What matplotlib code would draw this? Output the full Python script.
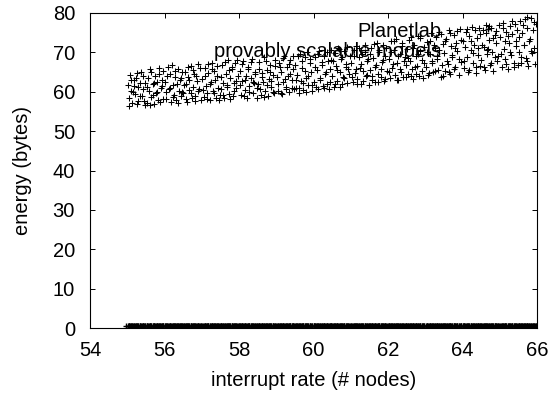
import matplotlib
matplotlib.use("Agg")
import matplotlib.pyplot as plt

plt.rcParams['font.family'] = ['Liberation Sans', 'DejaVu Sans']

# provably scalable models: interrupt rate vs energy (first pass of samples)
models_x = [
    55.02, 55.05, 55.08, 55.11, 55.14, 55.17, 55.2, 55.23, 55.26, 55.29, 55.33, 55.37, 55.41, 55.44, 55.48,
    55.52, 55.55, 55.58, 55.62, 55.65, 55.68, 55.71, 55.74, 55.77, 55.8, 55.83, 55.86, 55.9, 55.93, 55.97,
    56.02, 56.05, 56.09, 56.12, 56.15, 56.18, 56.22, 56.25, 56.28, 56.31, 56.35, 56.38, 56.41, 56.45, 56.48,
    56.51, 56.54, 56.58, 56.61, 56.64, 56.67, 56.7, 56.74, 56.77, 56.8, 56.83, 56.87, 56.9, 56.93, 56.97,
    57.02, 57.05, 57.08, 57.12, 57.15, 57.18, 57.21, 57.25, 57.28, 57.31, 57.34, 57.38, 57.41, 57.44, 57.48,
    57.51, 57.54, 57.57, 57.61, 57.64, 57.67, 57.7, 57.73, 57.77, 57.8, 57.83, 57.86, 57.9, 57.93, 57.97,
    58.02, 58.05, 58.09, 58.12, 58.15, 58.18, 58.21, 58.25, 58.28, 58.31, 58.35, 58.38, 58.41, 58.44, 58.48,
    58.51, 58.54, 58.58, 58.61, 58.64, 58.67, 58.7, 58.74, 58.77, 58.8, 58.83, 58.87, 58.9, 58.93, 58.97,
    59.02, 59.05, 59.08, 59.12, 59.15, 59.18, 59.21, 59.25, 59.28, 59.31, 59.34, 59.38, 59.41, 59.44, 59.48,
    59.51, 59.54, 59.57, 59.61, 59.64, 59.67, 59.7, 59.73, 59.77, 59.8, 59.83, 59.86, 59.9, 59.93, 59.97,
    60.02, 60.05, 60.09, 60.12, 60.15, 60.18, 60.22, 60.25, 60.28, 60.31, 60.35, 60.38, 60.41, 60.45, 60.48,
    60.51, 60.54, 60.58, 60.61, 60.64, 60.67, 60.7, 60.74, 60.77, 60.8, 60.83, 60.87, 60.9, 60.93, 60.97,
    61.02, 61.05, 61.08, 61.12, 61.15, 61.18, 61.21, 61.25, 61.28, 61.31, 61.34, 61.38, 61.41, 61.44, 61.48,
    61.51, 61.54, 61.57, 61.61, 61.64, 61.67, 61.7, 61.73, 61.77, 61.8, 61.83, 61.86, 61.9, 61.93, 61.97,
    62.02, 62.05, 62.09, 62.12, 62.15, 62.18, 62.22, 62.25, 62.28, 62.31, 62.35, 62.38, 62.41, 62.45, 62.48,
    62.51, 62.54, 62.58, 62.61, 62.64, 62.67, 62.7, 62.74, 62.77, 62.8, 62.83, 62.87, 62.9, 62.93, 62.97,
    63.02, 63.05, 63.08, 63.12, 63.15, 63.18, 63.21, 63.25, 63.28, 63.31, 63.34, 63.38, 63.41, 63.44, 63.48,
    63.51, 63.54, 63.57, 63.61, 63.64, 63.67, 63.7, 63.73, 63.77, 63.8, 63.83, 63.86, 63.9, 63.93, 63.97,
    64.02, 64.05, 64.09, 64.12, 64.15, 64.18, 64.22, 64.25, 64.28, 64.31, 64.35, 64.38, 64.41, 64.45, 64.48,
    64.51, 64.54, 64.58, 64.61, 64.64, 64.67, 64.7, 64.74, 64.77, 64.8, 64.83, 64.87, 64.9, 64.93, 64.97,
    65.02, 65.05, 65.08, 65.12, 65.15, 65.18, 65.21, 65.25, 65.28, 65.31, 65.34, 65.38, 65.41, 65.44, 65.48,
    65.51, 65.54, 65.57, 65.61, 65.64, 65.67, 65.7, 65.73, 65.77, 65.8, 65.83, 65.86, 65.9, 65.93, 65.97,
]
models_energy = [
    61.8, 58.3, 64.2, 60.1, 57.2, 62.9, 59.4, 63.6, 56.8, 61.1, 58.9, 65.0, 60.6, 57.7, 62.3,
    57.1, 63.4, 60.2, 65.8, 58.6, 61.9, 56.9, 64.1, 59.7, 62.6, 57.8, 66.0, 60.9, 63.0, 58.2,
    62.4, 58.1, 66.3, 60.7, 64.5, 57.4, 61.6, 59.2, 63.8, 57.9, 65.7, 60.3, 62.9, 58.8, 64.9,
    59.6, 65.1, 62.0, 57.5, 63.7, 60.4, 66.6, 58.4, 61.3, 64.4, 59.0, 62.7, 67.0, 60.8, 57.9,
    63.2, 58.7, 66.1, 61.4, 59.8, 64.8, 57.9, 62.5, 67.4, 60.1, 65.3, 58.3, 63.9, 61.0, 59.3,
    60.6, 66.8, 62.3, 58.4, 64.6, 61.7, 68.0, 59.5, 63.4, 65.9, 58.9, 62.1, 67.2, 60.9, 64.0,
    65.3, 59.1, 62.8, 67.9, 60.4, 64.1, 58.5, 66.2, 61.5, 63.6, 68.4, 59.8, 62.2, 65.0, 60.9,
    61.9, 67.6, 59.3, 64.7, 62.4, 68.8, 60.2, 65.6, 58.9, 63.3, 66.9, 61.2, 64.2, 59.7, 68.1,
    63.8, 60.1, 67.3, 65.0, 59.4, 62.6, 69.2, 61.3, 66.4, 64.0, 59.9, 68.0, 62.9, 65.8, 60.7,
    66.7, 61.0, 64.3, 59.8, 69.6, 62.7, 67.9, 60.5, 65.2, 63.5, 70.0, 61.8, 68.4, 64.9, 60.3,
    62.4, 68.7, 65.5, 60.8, 70.3, 63.6, 66.9, 61.5, 69.1, 64.4, 62.0, 67.8, 60.6, 65.9, 70.5,
    64.1, 61.3, 69.8, 66.5, 62.7, 71.0, 65.0, 68.3, 61.9, 63.8, 70.4, 67.1, 62.3, 65.7, 69.2,
    67.4, 62.5, 70.6, 64.8, 71.7, 63.3, 68.9, 66.0, 62.0, 69.7, 65.3, 72.0, 63.9, 67.9, 61.8,
    65.6, 71.2, 63.0, 68.5, 62.4, 66.8, 72.5, 64.6, 70.0, 63.7, 67.5, 71.8, 62.8, 69.1, 65.2,
    68.2, 63.4, 72.9, 66.1, 70.5, 64.2, 73.3, 67.4, 62.9, 69.6, 65.0, 71.7, 63.8, 68.8, 66.7,
    70.9, 64.5, 67.8, 73.8, 65.9, 63.3, 72.0, 69.0, 66.6, 74.2, 64.0, 70.3, 68.1, 63.6, 71.4,
    66.4, 72.6, 64.2, 69.5, 75.0, 67.7, 64.9, 71.2, 73.9, 68.4, 65.6, 70.7, 74.6, 66.9, 63.9,
    69.9, 65.3, 73.4, 67.0, 75.8, 64.6, 71.6, 68.7, 74.5, 66.2, 72.3, 70.4, 64.3, 76.0, 67.5,
    72.8, 66.1, 75.3, 68.9, 65.0, 74.1, 70.6, 76.5, 67.4, 71.9, 64.8, 73.6, 69.3, 76.1, 66.6,
    68.0, 75.7, 71.4, 65.6, 77.0, 69.6, 73.2, 66.9, 76.3, 70.1, 65.3, 74.4, 72.5, 67.7, 76.9,
    73.8, 66.4, 77.5, 70.8, 68.2, 75.1, 65.9, 72.3, 76.8, 69.4, 74.6, 67.2, 77.2, 71.5, 66.9,
    70.2, 77.9, 67.3, 74.9, 72.0, 78.4, 68.6, 76.2, 66.5, 73.5, 78.7, 69.8, 75.6, 71.1, 77.3,
]

# second pass of samples for the same series
models_x2 = [
    55.04, 55.1, 55.16, 55.19, 55.25, 55.3, 55.35, 55.39, 55.43, 55.47,
    55.54, 55.6, 55.63, 55.69, 55.73, 55.79, 55.84, 55.88, 55.92, 55.96,
    56.04, 56.08, 56.14, 56.2, 56.24, 56.29, 56.33, 56.37, 56.43, 56.47,
    56.53, 56.57, 56.62, 56.66, 56.72, 56.76, 56.81, 56.85, 56.91, 56.95,
    57.03, 57.09, 57.13, 57.17, 57.23, 57.27, 57.32, 57.36, 57.42, 57.46,
    57.53, 57.58, 57.62, 57.68, 57.72, 57.76, 57.81, 57.87, 57.91, 57.95,
    58.03, 58.08, 58.13, 58.17, 58.23, 58.27, 58.32, 58.37, 58.42, 58.47,
    58.53, 58.57, 58.63, 58.68, 58.72, 58.76, 58.82, 58.86, 58.92, 58.96,
    59.04, 59.09, 59.13, 59.19, 59.23, 59.27, 59.33, 59.37, 59.42, 59.46,
    59.53, 59.58, 59.62, 59.68, 59.72, 59.76, 59.81, 59.85, 59.91, 59.95,
    60.03, 60.08, 60.13, 60.17, 60.23, 60.27, 60.33, 60.37, 60.43, 60.47,
    60.53, 60.57, 60.62, 60.68, 60.72, 60.76, 60.82, 60.86, 60.91, 60.96,
    61.03, 61.09, 61.13, 61.17, 61.23, 61.27, 61.33, 61.37, 61.43, 61.47,
    61.53, 61.58, 61.62, 61.66, 61.72, 61.76, 61.81, 61.87, 61.91, 61.95,
    62.04, 62.08, 62.13, 62.17, 62.23, 62.27, 62.32, 62.37, 62.43, 62.47,
    62.53, 62.57, 62.62, 62.66, 62.72, 62.76, 62.81, 62.86, 62.91, 62.96,
    63.04, 63.09, 63.13, 63.17, 63.23, 63.27, 63.32, 63.36, 63.42, 63.47,
    63.53, 63.58, 63.63, 63.66, 63.72, 63.76, 63.81, 63.85, 63.91, 63.95,
    64.04, 64.08, 64.13, 64.17, 64.23, 64.27, 64.33, 64.37, 64.42, 64.47,
    64.53, 64.57, 64.62, 64.66, 64.72, 64.76, 64.81, 64.86, 64.91, 64.95,
    65.04, 65.09, 65.13, 65.17, 65.23, 65.27, 65.32, 65.37, 65.43, 65.47,
    65.53, 65.58, 65.62, 65.66, 65.72, 65.74, 65.79, 65.85, 65.91, 65.95,
]
models_energy2 = [
    56.4, 63.0, 59.9, 61.5, 64.7, 57.6, 62.1, 59.0, 63.9, 56.6,
    61.2, 56.7, 64.9, 59.1, 62.2, 60.0, 64.6, 57.3, 61.5, 65.3,
    59.9, 64.0, 61.0, 66.8, 58.6, 65.2, 61.9, 57.2, 63.4, 60.0,
    61.6, 58.1, 66.2, 63.0, 59.7, 65.6, 57.6, 63.9, 60.3, 66.0,
    60.4, 64.1, 58.2, 67.0, 62.0, 65.8, 59.6, 63.1, 66.5, 57.8,
    63.8, 59.2, 67.6, 61.1, 65.4, 58.1, 66.4, 60.3, 62.7, 68.1,
    61.8, 67.0, 58.8, 63.0, 65.8, 59.9, 67.5, 62.5, 64.4, 58.4,
    65.9, 60.8, 63.8, 58.7, 67.9, 61.7, 65.0, 62.8, 60.0, 66.6,
    61.9, 66.2, 59.6, 68.6, 63.2, 60.6, 67.1, 64.6, 61.0, 69.0,
    63.0, 69.0, 60.9, 66.1, 62.3, 68.8, 59.9, 64.1, 67.3, 61.6,
    66.3, 61.2, 69.7, 63.1, 67.5, 60.9, 64.9, 70.0, 62.6, 68.1,
    67.7, 62.0, 65.4, 70.8, 61.1, 68.9, 63.4, 66.2, 71.3, 64.5,
    63.8, 69.2, 65.9, 61.9, 71.1, 67.0, 62.8, 70.1, 64.3, 68.4,
    69.6, 64.0, 72.1, 66.2, 62.5, 70.7, 65.7, 68.0, 63.3, 71.0,
    64.9, 70.2, 67.0, 73.0, 63.0, 69.0, 65.8, 72.3, 67.9, 63.7,
    68.6, 73.1, 63.9, 71.0, 66.2, 64.6, 69.6, 73.6, 65.3, 67.4,
    70.0, 64.7, 73.0, 67.3, 71.9, 65.3, 69.0, 75.3, 63.8, 72.2,
    72.9, 67.7, 64.9, 74.9, 69.3, 65.8, 71.0, 75.4, 68.2, 73.2,
    67.9, 71.3, 76.0, 65.6, 73.0, 69.8, 75.6, 66.2, 71.0, 74.6,
    72.0, 66.2, 74.9, 70.5, 76.6, 67.4, 73.7, 68.8, 75.5, 69.0,
    69.6, 76.2, 72.8, 67.0, 74.1, 70.1, 78.0, 66.2, 73.0, 75.8,
    74.0, 68.9, 76.9, 71.8, 67.9, 79.0, 72.9, 70.4, 77.8, 67.0,
]

# Planetlab: flat along the bottom, measured at the same rates plus these
planetlab_nodes = [
    54.96, 55.05, 55.13, 55.24, 55.33, 55.41, 55.52, 55.6, 55.71, 55.79, 55.88, 55.97,
    56.07, 56.16, 56.25, 56.34, 56.42, 56.53, 56.61, 56.7, 56.8, 56.89, 56.98,
    57.08, 57.16, 57.27, 57.35, 57.44, 57.53, 57.63, 57.71, 57.8, 57.9, 57.99,
    58.09, 58.17, 58.26, 58.36, 58.45, 58.54, 58.62, 58.73, 58.81, 58.9, 59.0,
    59.09, 59.18, 59.28, 59.36, 59.46, 59.55, 59.63, 59.73, 59.82, 59.91,
    60.01, 60.1, 60.19, 60.28, 60.37, 60.47, 60.56, 60.64, 60.74, 60.83, 60.92,
    61.02, 61.11, 61.2, 61.29, 61.38, 61.48, 61.57, 61.65, 61.75, 61.84, 61.93,
    62.03, 62.12, 62.21, 62.3, 62.39, 62.49, 62.58, 62.66, 62.76, 62.85, 62.94,
    63.04, 63.13, 63.22, 63.31, 63.4, 63.5, 63.59, 63.67, 63.77, 63.86, 63.95,
    64.05, 64.14, 64.23, 64.32, 64.41, 64.51, 64.6, 64.68, 64.78, 64.87, 64.96,
    65.06, 65.15, 65.24, 65.33, 65.42, 65.52, 65.61, 65.69, 65.79, 65.88, 65.97,
]
planetlab_x = planetlab_nodes + models_x + models_x2
planetlab_energy = [0.6] * len(planetlab_x)

x_ticks = [54, 56, 58, 60, 62, 64, 66]
y_ticks = [0, 10, 20, 30, 40, 50, 60, 70, 80]

FS = 14.5

fig = plt.figure(figsize=(5.52, 3.95), dpi=100)
ax = fig.add_axes([90 / 552, 1 - 328 / 395, 447 / 552, 315 / 395])

ax.plot(planetlab_x, planetlab_energy, linestyle='none', marker='+',
        color='black', markersize=4.5, markeredgewidth=1.0, label='Planetlab')
ax.plot(models_x + models_x2, models_energy + models_energy2, linestyle='none',
        marker='+', color='black', markersize=4.5, markeredgewidth=0.75,
        label='provably scalable models')

ax.set_xlim(54, 66)
ax.set_ylim(0, 80)
ax.set_xticks(x_ticks)
ax.set_yticks(y_ticks)
ax.tick_params(direction='in', length=3.6, width=0.7, top=True, right=True,
               labelsize=FS)
ax.tick_params(axis='x', pad=9.5)
ax.tick_params(axis='y', pad=10.8)
for s in ax.spines.values():
    s.set_linewidth(0.8)

ax.set_xlabel('interrupt rate (# nodes)', fontsize=FS, labelpad=8)
ax.set_ylabel('energy (bytes)', fontsize=FS, labelpad=15)

# key sits under the points, like the original
leg = ax.legend(loc='upper right', bbox_to_anchor=(0.957, 0.973), frameon=False,
                markerfirst=False, handlelength=3, handletextpad=0.8,
                borderpad=0, borderaxespad=0, fontsize=FS, labelspacing=0.05)
leg.set_zorder(1)

fig.savefig('out.png', dpi=100)
